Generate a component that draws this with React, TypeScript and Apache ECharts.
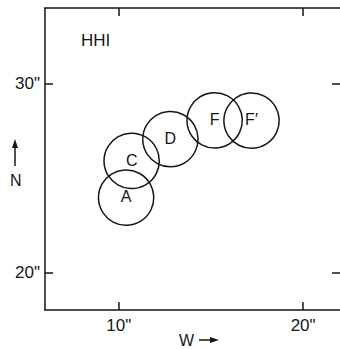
import React, { useEffect, useRef } from "react";
import * as echarts from "echarts";

const regionLabels = ["A", "C", "D", "F", "F\u2032"];
const regionX = [10.4, 10.7, 12.8, 15.2, 17.2];
const regionY = [24.0, 25.9, 27.1, 28.1, 28.1];
const beamRadius = 1.5;
const xTicks = [10, 20];
const yTicks = [20, 30];
const xRange = [6, 22];
const yRange = [18, 34];

const FONT = "'Liberation Sans', Arial, Helvetica, sans-serif";
const INK = "#161616";

export default function App() {
  const ref = useRef<HTMLDivElement>(null);
  useEffect(() => {
    if (!ref.current) return;
    const chart = echarts.init(ref.current, undefined, { renderer: "svg" });
    const data = regionX.map((x, i) => [x, regionY[i]]);
    const axisCommon = {
      type: "value" as const,
      splitLine: { show: false },
      axisLine: { show: true, onZero: false, lineStyle: { color: INK, width: 1.5 } },
      axisTick: { show: true, inside: true, length: 8, lineStyle: { color: INK, width: 1.5 } },
    };
    chart.setOption({
      animation: false,
      backgroundColor: "#ffffff",
      grid: { left: 45, top: 8, width: 298, height: 302, containLabel: false },
      xAxis: [
        {
          ...axisCommon,
          position: "bottom",
          min: xRange[0],
          max: xRange[1],
          axisTick: { ...axisCommon.axisTick, customValues: xTicks },
          axisLabel: {
            show: true,
            customValues: xTicks,
            formatter: (v: number) => `${v}"`,
            color: INK,
            fontSize: 17,
            fontFamily: FONT,
            margin: 7,
          },
        },
        {
          ...axisCommon,
          position: "top",
          min: xRange[0],
          max: xRange[1],
          axisTick: { ...axisCommon.axisTick, customValues: xTicks },
          axisLabel: { show: false },
        },
      ],
      yAxis: [
        {
          ...axisCommon,
          position: "left",
          min: yRange[0],
          max: yRange[1],
          axisTick: { ...axisCommon.axisTick, customValues: yTicks },
          axisLabel: {
            show: true,
            customValues: yTicks,
            formatter: (v: number) => `${v}"`,
            color: INK,
            fontSize: 17,
            fontFamily: FONT,
            margin: 5,
          },
        },
        {
          ...axisCommon,
          position: "right",
          min: yRange[0],
          max: yRange[1],
          axisLine: { show: false },
          axisTick: { ...axisCommon.axisTick, customValues: yTicks },
          axisLabel: { show: false },
        },
      ],
      series: [
        {
          type: "custom",
          coordinateSystem: "cartesian2d",
          data,
          renderItem: (params: any, api: any) => {
            const c = api.coord([api.value(0), api.value(1)]);
            const s = api.size([beamRadius, beamRadius]);
            return {
              type: "group",
              children: [
                {
                  type: "circle",
                  shape: { cx: c[0], cy: c[1], r: s[0] },
                  style: { fill: "none", stroke: INK, lineWidth: 1.5 },
                },
                {
                  type: "text",
                  x: c[0],
                  y: c[1],
                  style: {
                    text: regionLabels[params.dataIndex],
                    fontSize: 16,
                    fontFamily: FONT,
                    fill: INK,
                    align: "center",
                    verticalAlign: "middle",
                  },
                },
              ],
            };
          },
        },
      ],
      graphic: [
        {
          type: "text",
          left: 81,
          top: 32,
          style: { text: "HHI", fontSize: 17, fontFamily: FONT, fill: INK },
        },
        {
          type: "text",
          left: 10,
          top: 172,
          style: { text: "N", fontSize: 16, fontFamily: FONT, fill: INK },
        },
        {
          type: "line",
          shape: { x1: 15, y1: 166, x2: 15, y2: 146 },
          style: { stroke: INK, lineWidth: 1.5 },
        },
        {
          type: "polygon",
          shape: { points: [[15, 139], [12, 148], [18, 148]] },
          style: { fill: INK },
        },
        {
          type: "text",
          left: 179,
          top: 332,
          style: { text: "W", fontSize: 16, fontFamily: FONT, fill: INK },
        },
        {
          type: "line",
          shape: { x1: 199, y1: 340, x2: 212, y2: 340 },
          style: { stroke: INK, lineWidth: 1.5 },
        },
        {
          type: "polygon",
          shape: { points: [[219, 340], [210, 337], [210, 343]] },
          style: { fill: INK },
        },
      ],
    });
    return () => chart.dispose();
  }, []);
  return (
    <div
      ref={ref}
      style={{ position: "fixed", left: 0, top: 0, width: 340, height: 349, background: "#fff" }}
    />
  );
}
